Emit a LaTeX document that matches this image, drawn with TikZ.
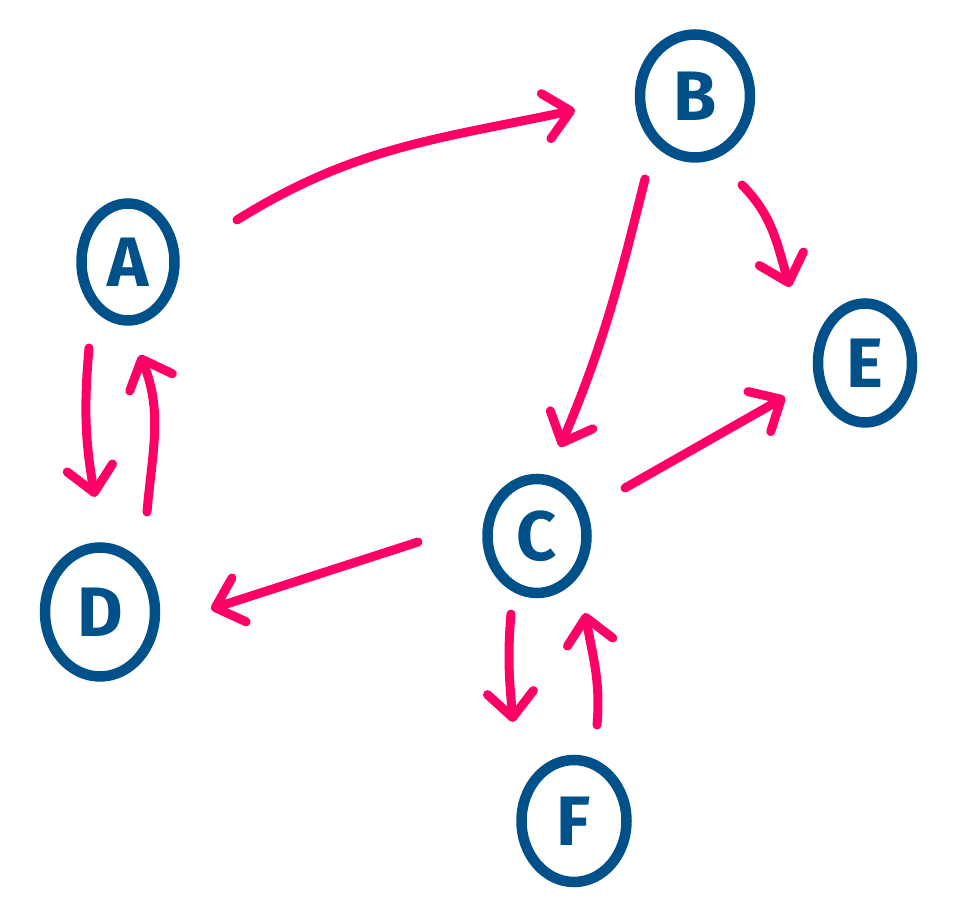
\documentclass[tikz,border=0pt]{standalone}
\usepackage{fontspec}
\setmainfont{Fira Sans}
\usetikzlibrary{shapes.geometric,arrows.meta}
\definecolor{nodeblue}{HTML}{00508A}
\definecolor{edgepink}{HTML}{FF0066}
\begin{document}
\begin{tikzpicture}[x=1pt,y=1pt,
  vert/.style={draw=nodeblue, line width=10.5pt, ellipse, inner sep=0pt,
    text=nodeblue, font=\fontsize{70}{70}\selectfont\bfseries},
  edge/.style={draw=edgepink, line width=9pt, line cap=round, line join=round,
    -{Straight Barb[length=25pt,width=46pt,round]}}]
\useasboundingbox (0,0) rectangle (972,920);
\node[vert, minimum width=93pt, minimum height=117pt] (A) at (128,658) {A};
\node[vert, minimum width=110pt, minimum height=123pt] (B) at (695,824) {B};
\node[vert, minimum width=99pt, minimum height=114pt] (C) at (537,384) {C};
\node[vert, minimum width=110pt, minimum height=129pt] (D) at (100,308) {D};
\node[vert, minimum width=94pt, minimum height=119pt] (E) at (865,557) {E};
\node[vert, minimum width=105pt, minimum height=122pt] (F) at (574,99) {F};
% edges
\draw[edge] ([shift={(109,42)}]A.center) to[out=32,in=192] ([shift={(-120,-14)}]B.center);
\draw[edge] ([shift={(-50,-83)}]B.center) to[out=256,in=67] ([shift={(23,89)}]C.center);
\draw[edge] ([shift={(47,-89)}]B.center) to[out=-45,in=107] ([shift={(-75,76)}]E.center);
\draw[edge] ([shift={(88,48)}]C.center) -- ([shift={(-80,-34)}]E.center);
\draw[edge] ([shift={(-119,-6)}]C.center) -- ([shift={(111,3)}]D.center);
\draw[edge] ([shift={(-39,-86)}]A.center) to[out=265,in=100] ([shift={(-5,115)}]D.center);
\draw[edge] ([shift={(47,100)}]D.center) to[out=85,in=292] ([shift={(12,-93)}]A.center);
\draw[edge] ([shift={(-26,-78)}]C.center) to[out=265,in=95] ([shift={(-61,99)}]F.center);
\draw[edge] ([shift={(23,96)}]F.center) to[out=85,in=280] ([shift={(48,-77)}]C.center);
\end{tikzpicture}
\end{document}
